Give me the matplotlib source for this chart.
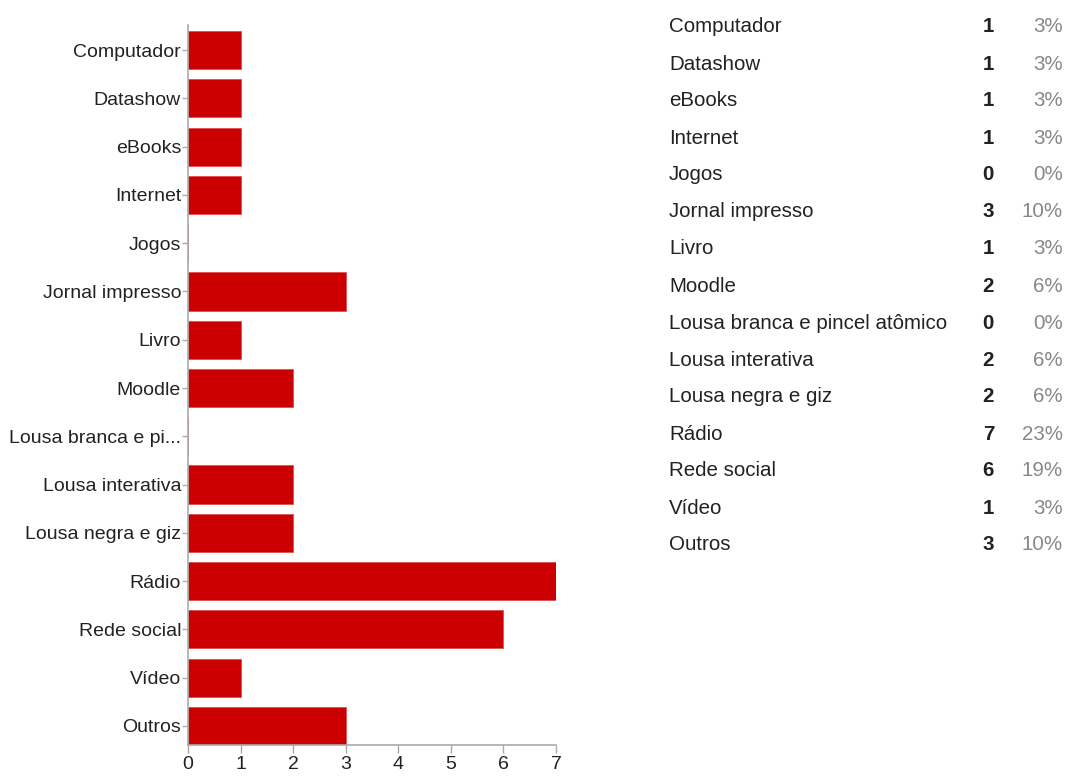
import matplotlib.pyplot as plt
import numpy as np

plt.rcParams['font.family'] = ['Liberation Sans', 'DejaVu Sans']

categories = ['Computador', 'Datashow', 'eBooks', 'Internet', 'Jogos',
              'Jornal impresso', 'Livro', 'Moodle', 'Lousa branca e pincel atômico',
              'Lousa interativa', 'Lousa negra e giz', 'Rádio', 'Rede social',
              'Vídeo', 'Outros']
tick_labels = ['Computador', 'Datashow', 'eBooks', 'Internet', 'Jogos',
               'Jornal impresso', 'Livro', 'Moodle', 'Lousa branca e pi...',
               'Lousa interativa', 'Lousa negra e giz', 'Rádio', 'Rede social',
               'Vídeo', 'Outros']
counts = [1, 1, 1, 1, 0, 3, 1, 2, 0, 2, 2, 7, 6, 1, 3]
percents = ['3%', '3%', '3%', '3%', '0%', '10%', '3%', '6%', '0%',
            '6%', '6%', '23%', '19%', '3%', '10%']

W, H = 1067, 776
fig = plt.figure(figsize=(W / 100, H / 100), dpi=100)
ax = fig.add_axes([188 / W, 1 - 745 / H, (556 - 188) / W, (745 - 25) / H])

y = np.arange(len(categories))
ax.barh(y, counts, height=0.79, color='#cc0000', edgecolor='#e05050', linewidth=0.6)

ax.set_xlim(0, 7)
ax.set_ylim(14.395, -0.52)
ax.set_yticks(y)
ax.set_yticklabels(tick_labels, fontsize=14, color='#222222')
ax.set_xticks(range(8))
ax.tick_params(axis='x', labelsize=14, colors='#aaaaaa', labelcolor='#222222',
               length=6, width=1, pad=2)
ax.tick_params(axis='y', colors='#aaaaaa', labelcolor='#222222', length=4, width=1, pad=1)

for s in ['top', 'right']:
    ax.spines[s].set_visible(False)
for s in ['left', 'bottom']:
    ax.spines[s].set_color('#aaaaaa')
    ax.spines[s].set_linewidth(1.2)

# table on the right
row0, step = 27, 37
for i, (c, n, p) in enumerate(zip(categories, counts, percents)):
    yy = 1 - (row0 + i * step) / H
    fig.text(669 / W, yy, c, fontsize=14.8, color='#222222', ha='left', va='center')
    fig.text(994 / W, yy, str(n), fontsize=14.8, color='#222222', weight='bold',
             ha='right', va='center')
    fig.text(1063 / W, yy, p, fontsize=14.8, color='#888888', ha='right', va='center')

plt.savefig('out.png', dpi=100)
